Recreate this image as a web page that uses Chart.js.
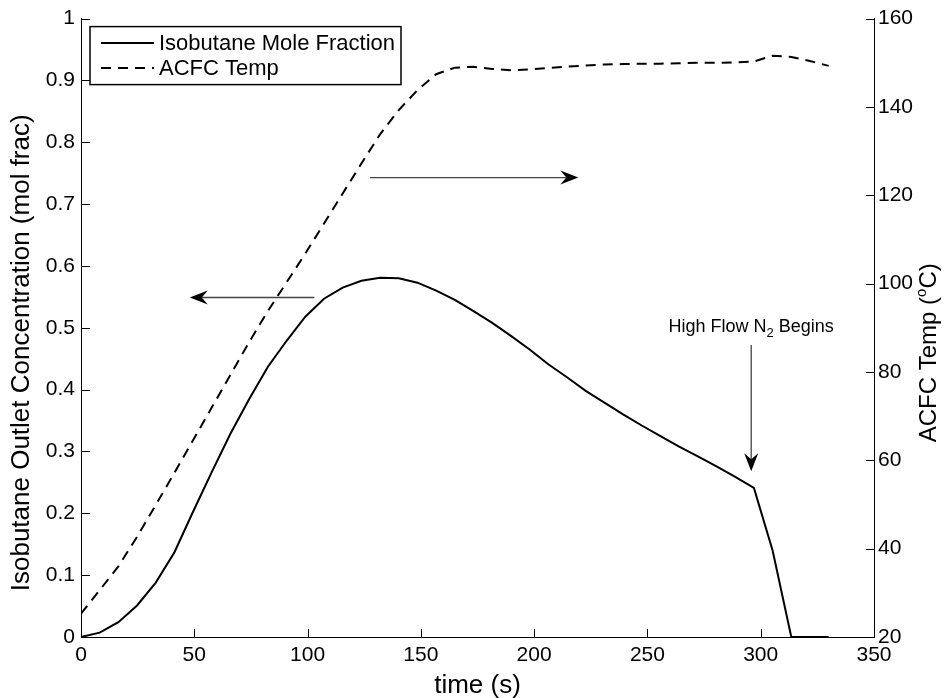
<!DOCTYPE html>
<html>
<head>
<meta charset="utf-8">
<script src="https://cdn.jsdelivr.net/npm/chart.js@4.4.1/dist/chart.umd.min.js"></script>
<style>
  html, body { margin: 0; padding: 0; background: #fff; }
  #wrap { width: 950px; height: 698px; }
</style>
</head>
<body>
<div id="wrap"><canvas id="chart" width="950" height="698"></canvas></div>
<script>
// sample times (s)
const times = [0, 8.25, 16.5, 24.75, 33, 41.25, 49.5, 57.75, 66, 74.25,
  82.5, 90.75, 99, 107.25, 115.5, 123.75, 132, 140.25, 148.5, 156.75,
  165, 173.25, 181.5, 189.75, 198, 206.25, 214.5, 222.75, 231, 239.25,
  247.5, 255.75, 264, 272.25, 280.5, 288.75, 297, 305.25, 313.5, 321.75, 330];

// isobutane outlet concentration (mol frac)
const moleFraction = [0, 0.007, 0.024, 0.051, 0.088, 0.137, 0.203, 0.267, 0.329, 0.385,
  0.437, 0.479, 0.518, 0.547, 0.565, 0.576, 0.581, 0.580, 0.573, 0.560,
  0.545, 0.527, 0.508, 0.487, 0.465, 0.441, 0.420, 0.398, 0.379, 0.360,
  0.342, 0.325, 0.308, 0.292, 0.276, 0.259, 0.241, 0.140, 0, 0, 0];

// ACFC temperature (C)
const acfcTemp = [25.3, 30.6, 36.0, 42.7, 49.9, 57.2, 64.6, 72.0, 79.4, 86.8,
  93.8, 100.3, 106.8, 113.6, 120.4, 127.2, 133.8, 139.3, 143.8, 147.4,
  148.9, 149.1, 148.6, 148.3, 148.5, 148.8, 149.1, 149.4, 149.6, 149.7,
  149.8, 149.8, 149.9, 150.0, 150.0, 150.1, 150.3, 151.6, 151.3, 150.4, 149.3];

const xTicks = [0, 50, 100, 150, 200, 250, 300, 350];
const leftTicks = [0, 0.1, 0.2, 0.3, 0.4, 0.5, 0.6, 0.7, 0.8, 0.9, 1];
const rightTicks = [20, 40, 60, 80, 100, 120, 140, 160];

const FONT = '"Liberation Sans", Arial, Helvetica, sans-serif';
Chart.defaults.font.family = FONT;
Chart.defaults.color = '#000';

function arrow(ctx, x1, y1, x2, y2) {
  const ang = Math.atan2(y2 - y1, x2 - x1);
  const c = Math.cos(ang), s = Math.sin(ang);
  const L = 18, W = 7, N = 12;
  ctx.strokeStyle = '#444';
  ctx.lineWidth = 1.3;
  ctx.beginPath();
  ctx.moveTo(x1, y1);
  ctx.lineTo(x2 - N * c, y2 - N * s);
  ctx.stroke();
  ctx.fillStyle = '#000';
  ctx.beginPath();
  ctx.moveTo(x2, y2);
  ctx.lineTo(x2 - L * c - W * s, y2 - L * s + W * c);
  ctx.lineTo(x2 - N * c, y2 - N * s);
  ctx.lineTo(x2 - L * c + W * s, y2 - L * s - W * c);
  ctx.closePath();
  ctx.fill();
}

const decorations = {
  id: 'decorations',
  afterDraw(chart) {
    const { ctx, chartArea: a, scales: { x, y, y2 } } = chart;
    ctx.save();

    // inward tick marks
    ctx.strokeStyle = '#000';
    ctx.lineWidth = 1;
    ctx.beginPath();
    xTicks.forEach(v => {
      const px = Math.round(x.getPixelForValue(v)) + 0.5;
      ctx.moveTo(px, a.bottom); ctx.lineTo(px, a.bottom - 8);
    });
    leftTicks.forEach(v => {
      const py = Math.round(y.getPixelForValue(v)) + 0.5;
      ctx.moveTo(a.left, py); ctx.lineTo(a.left + 9, py);
    });
    rightTicks.forEach(v => {
      const py = Math.round(y2.getPixelForValue(v)) + 0.5;
      ctx.moveTo(a.right, py); ctx.lineTo(a.right - 8, py);
    });
    ctx.stroke();

    // annotation arrows (data coordinates on x / left y)
    arrow(ctx, x.getPixelForValue(103), y.getPixelForValue(0.549), x.getPixelForValue(48), y.getPixelForValue(0.549));
    arrow(ctx, x.getPixelForValue(127.5), y.getPixelForValue(0.743), x.getPixelForValue(219.5), y.getPixelForValue(0.743));
    arrow(ctx, x.getPixelForValue(295.8), y.getPixelForValue(0.472), x.getPixelForValue(295.8), y.getPixelForValue(0.268));

    // "High Flow N2 Begins"
    const tx = x.getPixelForValue(295.8), ty = y.getPixelForValue(0.493);
    ctx.fillStyle = '#000';
    ctx.textBaseline = 'alphabetic';
    ctx.textAlign = 'left';
    ctx.font = '18px ' + FONT;
    const p1 = 'High Flow N', p3 = ' Begins';
    const w1 = ctx.measureText(p1).width, w3 = ctx.measureText(p3).width;
    ctx.font = '13px ' + FONT;
    const w2 = ctx.measureText('2').width;
    let sx = tx - (w1 + w2 + w3) / 2;
    ctx.font = '18px ' + FONT;
    ctx.fillText(p1, sx, ty);
    ctx.font = '13px ' + FONT;
    ctx.fillText('2', sx + w1, ty + 5);
    ctx.font = '18px ' + FONT;
    ctx.fillText(p3, sx + w1 + w2, ty);

    // legend box
    const lx = a.left + 9, ly = a.top + 8, lw = 311, lh = 58;
    ctx.fillStyle = '#fff';
    ctx.fillRect(lx, ly, lw, lh);
    ctx.strokeStyle = '#000';
    ctx.lineWidth = 1.5;
    ctx.strokeRect(lx, ly, lw, lh);
    ctx.font = '22px ' + FONT;
    ctx.textBaseline = 'middle';
    chart.data.datasets.forEach((ds, i) => {
      const ry = ly + 16.5 + i * 25;
      ctx.strokeStyle = ds.borderColor;
      ctx.lineWidth = ds.borderWidth;
      ctx.setLineDash(ds.borderDash || []);
      ctx.beginPath();
      ctx.moveTo(lx + 11, ry); ctx.lineTo(lx + 64, ry);
      ctx.stroke();
      ctx.setLineDash([]);
      ctx.fillStyle = '#000';
      ctx.fillText(ds.label, lx + 69, ry + 1);
    });

    // left axis title
    const midY = (a.top + a.bottom) / 2 + 25;
    ctx.save();
    ctx.translate(22, midY);
    ctx.rotate(-Math.PI / 2);
    ctx.font = '26px ' + FONT;
    ctx.textAlign = 'center';
    ctx.textBaseline = 'middle';
    ctx.fillText('Isobutane Outlet Concentration (mol frac)', 0, 0);
    ctx.restore();

    // right axis title, reading bottom to top
    ctx.translate(929, midY);
    ctx.rotate(-Math.PI / 2);
    ctx.textAlign = 'left';
    ctx.font = '24px ' + FONT;
    ctx.textBaseline = 'middle';
    const r1 = 'ACFC Temp (', r3 = 'C)';
    const q1 = ctx.measureText(r1).width, q3 = ctx.measureText(r3).width;
    ctx.font = '15px ' + FONT;
    const q2 = ctx.measureText('o').width;
    let rx = -(q1 + q2 + q3) / 2;
    ctx.font = '24px ' + FONT;
    ctx.fillText(r1, rx, 0);
    ctx.font = '15px ' + FONT;
    ctx.fillText('o', rx + q1, -7);
    ctx.font = '24px ' + FONT;
    ctx.fillText(r3, rx + q1 + q2, 0);
    ctx.restore();
  }
};

const chart = new Chart(document.getElementById('chart'), {
  type: 'line',
  data: {
    datasets: [{
      label: 'Isobutane Mole Fraction',
      data: times.map((t, i) => ({ x: t, y: moleFraction[i] })),
      yAxisID: 'y',
      borderColor: '#000',
      borderWidth: 2,
      pointRadius: 0,
      tension: 0,
      fill: false,
      clip: 4
    }, {
      label: 'ACFC Temp',
      data: times.map((t, i) => ({ x: t, y: acfcTemp[i] })),
      yAxisID: 'y2',
      borderColor: '#000',
      borderWidth: 2,
      borderDash: [10, 7],
      pointRadius: 0,
      tension: 0,
      fill: false
    }]
  },
  options: {
    responsive: false,
    animation: false,
    layout: { padding: { top: 14, left: 0, right: 0, bottom: 0 } },
    plugins: { legend: { display: false }, tooltip: { enabled: false } },
    scales: {
      x: {
        type: 'linear', min: 0, max: 350,
        afterBuildTicks: s => { s.ticks = xTicks.map(v => ({ value: v })); },
        afterFit: s => { s.height = 61; },
        ticks: { font: { size: 21 }, color: '#000', padding: 6, maxRotation: 0 },
        grid: { drawOnChartArea: false, drawTicks: false },
        border: { color: '#000', width: 1 },
        title: { display: true, text: 'time (s)', color: '#000', font: { size: 26, lineHeight: 1 }, padding: { top: 0, bottom: -1 } }
      },
      y: {
        position: 'left', min: 0, max: 1,
        afterBuildTicks: s => { s.ticks = leftTicks.map(v => ({ value: v })); },
        afterFit: s => { s.width = 81; },
        ticks: { font: { size: 21 }, color: '#000', padding: 6, callback: v => String(Math.round(v * 10) / 10) },
        grid: { drawOnChartArea: false, drawTicks: false },
        border: { color: '#000', width: 1 }
      },
      y2: {
        position: 'right', min: 20, max: 160,
        afterBuildTicks: s => { s.ticks = rightTicks.map(v => ({ value: v })); },
        afterFit: s => { s.width = 76; },
        ticks: { font: { size: 21 }, color: '#000', padding: 4 },
        grid: { drawOnChartArea: false, drawTicks: false },
        border: { color: '#000', width: 1 }
      }
    }
  },
  plugins: [decorations]
});
</script>
</body>
</html>
